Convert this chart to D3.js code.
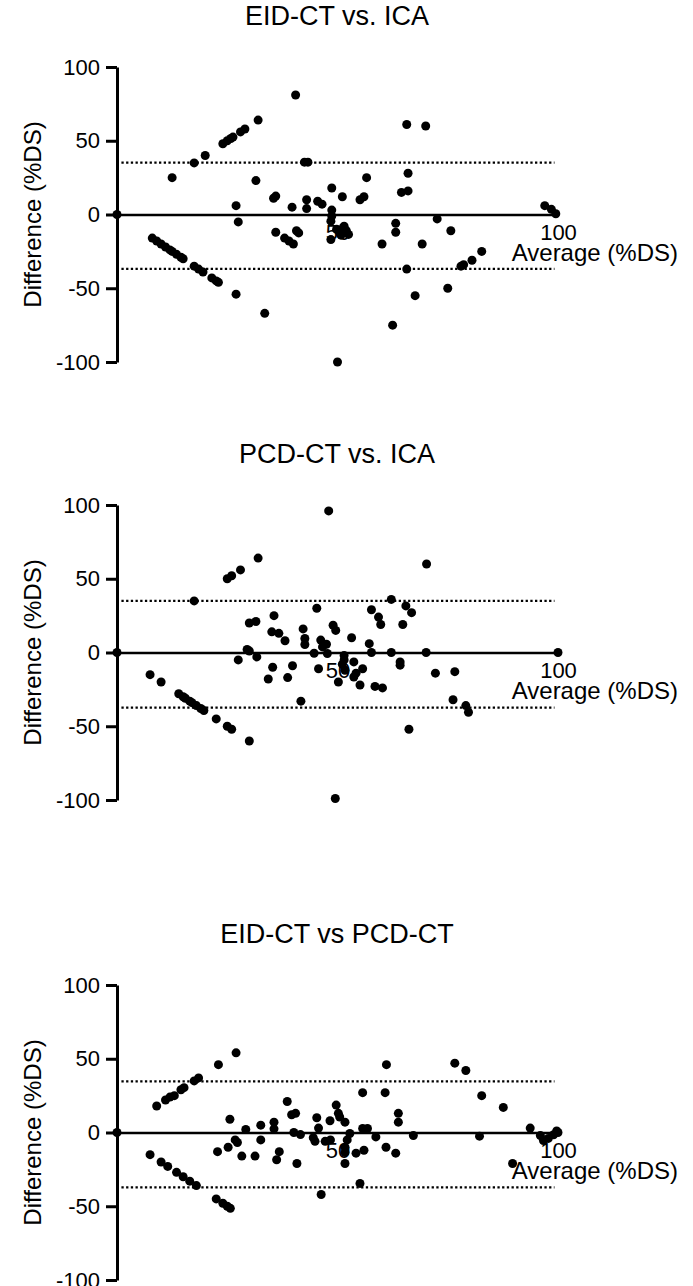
<!DOCTYPE html>
<html>
<head>
<meta charset="utf-8">
<script src="https://cdn.jsdelivr.net/npm/d3@7"></script>
<style>
  body { margin: 0; background: #fff; }
  text { font-family: "Liberation Sans", Arial, Helvetica, sans-serif; fill: #000; }
</style>
</head>
<body>
<div id="chart"></div>
<script>
// Panel titles and axis ticks
const titles = ["EID-CT vs. ICA", "PCD-CT vs. ICA", "EID-CT vs PCD-CT"];
const yTicks = [-100, -50, 0, 50, 100];
const xTicks = [50, 100];

// Limits of agreement (dotted lines) per panel
const loaUpper = [35.2, 35, 34.7];
const loaLower = [-36.9, -37.4, -37.2];

// EID-CT vs. ICA : average / difference
const eidIcaAvg = [0,
  8, 9, 10, 11, 12, 12.5, 13.5, 14.5, 15,
  17.5, 18.5, 19.5, 21.5, 22.5, 23, 27, 33.5, 50,
  12.5, 17.5, 20, 24, 25, 25.8, 26.3, 28, 29, 32, 40.5,
  27, 27.5, 31.5, 35.5, 36, 36, 38, 39, 40, 39.7, 40.7, 41.2,
  42.5, 43.3, 43, 43, 45.5, 46.5,
  48.7, 48.7, 48.7, 48.5, 48.5, 49.8, 50.5, 51.3, 52, 52.5, 50.8, 51.5,
  51.1, 55.1, 56, 56.6,
  60.1, 62.5, 63.2, 63.2, 64.5, 66, 66, 65.7, 70, 65.7, 67.6, 69.2, 72.6, 75.7, 75, 78, 78.6, 80.5, 82.7,
  97, 98.5, 99.5];
const eidIcaDiff = [0,
  -16, -18, -20, -22, -24, -25, -27, -29, -30,
  -35, -37, -39, -43, -45, -46, -54, -67, -100,
  25, 35, 40, 48, 50, 51.5, 52.5, 56, 58, 64, 81,
  6, -5, 23, 11, 12.5, -12, -16, -18, -20, 5, -11, -12.5,
  35.5, 35.5, 10, 4, 9, 7,
  18, 3, -1, -4.5, -17, -10, -12, -9, -11, -13.5, -14, -8,
  12, 10, 12, 25,
  -20, -75, -6, -12, 15, 16, 28, 61, 60, -37, -55, -20, -3, -11, -50, -35, -34, -31, -25,
  6, 3.5, 0.5];

// PCD-CT vs. ICA : average / difference
const pcdIcaAvg = [0,
  7.5, 10, 14, 15, 15.5, 16.5, 17, 18, 19, 19.7,
  22.5, 25, 26, 30, 49.5,
  17.5, 25, 26, 28, 32, 48,
  30, 31.5, 27.5, 29.5, 30, 31.7,
  35.6, 35.1, 36.7, 38.1, 35.3, 34.3, 38.7, 39.8, 41.7,
  45.3, 42.2, 42.6, 42.6, 44.7, 45.7, 46.2, 47.5, 46.6, 47.7,
  49, 49.6, 51.5, 51.5, 51.1, 51.7, 50.2, 53.2,
  53.7, 55.7, 54.2, 53.7, 55.1, 57.2, 57.7, 58.5, 60.2,
  62.2, 64.2, 64.2, 70.1, 57.7, 59.3, 59.8, 62.2, 65.5, 66.8, 64.8,
  70.2, 66.2, 72.2, 76.6, 76.2, 79.1, 79.7, 100];
const pcdIcaDiff = [0,
  -15, -20, -28, -30, -31, -33, -34, -36, -38, -39.4,
  -45, -50, -52, -60, -99,
  35, 50, 52, 56, 64, 96,
  20, 21, -5, 2, 1, -3,
  25, 14, 13, 8, -10, -18, -17, -9, -33,
  30, 16, 9.5, 5.4, -0.5, -11, 8.4, 5.6, 3.8, -0.7,
  18.5, 15, -2, -5, -8, -12, -20, 10,
  -6.4, -11, -14, -16.6, -22, 6, 0, -23, -24,
  0, -6.4, -8.6, 0, 29, 24, 19, 36, 31.6, 27, 19,
  60, -52, -14, -13, -32, -36, -40.5, 0];

// EID-CT vs PCD-CT : average / difference
const eidPcdAvg = [0,
  7.5, 10, 11.5, 13.5, 15, 16.5, 18,
  22.5, 24, 25, 25.7,
  9, 11, 12, 13, 14.5, 15.2, 17.5, 18.5, 23, 27,
  25.6, 22.8, 25.2, 26.8, 27.3, 28.3, 29.2, 31.3, 32.6, 32.6, 35.6, 35.6, 36.2, 36.8,
  38.6, 39.6, 40.5, 40.1, 41.6, 40.8,
  45.3, 45.7, 44.5, 44.9, 48.3, 47.2, 48.4, 46.3,
  49.7, 50.2, 50.5, 51.7, 52.8, 52.2, 51.7, 51.7, 51.7,
  55.1, 55.7, 60.8, 61.1, 55.7, 56.8, 58.7, 54.2, 56, 61, 63.2, 63.8, 63.8, 67.2,
  76.6, 79.1, 82.7, 87.6, 82.2, 89.7, 93.7, 96, 96.7, 97.8, 99, 99.7, 100];
const eidPcdDiff = [0,
  -15, -20, -23, -27, -30, -33, -36,
  -45, -48, -50, -51.4,
  18, 22, 24, 25, 29, 30.4, 35, 37, 46, 54,
  9, -13, -10, -5, -6.8, -16, 2, -16, 5, -5, 7, 2.5, -18.5, -13,
  21, 12, 13, 0, -1.4, -21,
  10, 3, -3.5, -6, 8, -6, -5, -42,
  18.6, 13, 10.5, 7, -0.7, -5, -10, -13.5, -21,
  -34.5, 27, 27, 46, 2.7, 2.7, -3, -14, -12, -10, -14, 13, 7, -2,
  47, 42, 25, 17, -2.5, -21, 3, -2, -5.5, -4, -1.5, 1, 0];

const svg = d3.select("#chart")
  .append("svg")
    .attr("width", 693)
    .attr("height", 1286);

const plotH = 295;
const panels = [
  { title: titles[0], avg: eidIcaAvg, diff: eidIcaDiff, top: 67, upper: loaUpper[0], lower: loaLower[0] },
  { title: titles[1], avg: pcdIcaAvg, diff: pcdIcaDiff, top: 505, upper: loaUpper[1], lower: loaLower[1] },
  { title: titles[2], avg: eidPcdAvg, diff: eidPcdDiff, top: 985, upper: loaUpper[2], lower: loaLower[2] }
];

const x = d3.scaleLinear().domain([0, 100]).range([117, 558]);
const fmt = d => String(d);  // plain hyphen minus, as in the original

panels.forEach(p => {
  const y = d3.scaleLinear().domain([-100, 100]).range([p.top + plotH, p.top]);
  const g = svg.append("g");

  // title
  g.append("text")
    .attr("x", 337)
    .attr("y", p.top - 51)
    .attr("text-anchor", "middle")
    .attr("dominant-baseline", "central")
    .style("font-size", "27px")
    .text(p.title);

  // limits of agreement
  g.selectAll("line.loa")
    .data([p.upper, p.lower])
    .join("line")
      .attr("class", "loa")
      .attr("x1", x(1))
      .attr("x2", x(99.2))
      .attr("y1", d => y(d))
      .attr("y2", d => y(d))
      .attr("stroke", "#000")
      .attr("stroke-width", 2.2)
      .attr("stroke-dasharray", "2.3,2.4");

  // x axis drawn along zero difference
  const xAxis = g.append("g")
    .attr("transform", `translate(0,${y(0)})`)
    .call(d3.axisBottom(x).tickValues(xTicks).tickFormat(fmt).tickSize(0).tickSizeOuter(0).tickPadding(10));
  xAxis.select(".domain").attr("stroke", "#000").attr("stroke-width", 2.6);
  xAxis.selectAll("text").style("font-size", "22px").attr("fill", "#000");

  g.append("text")
    .attr("x", 678)
    .attr("y", y(0) + 38)
    .attr("text-anchor", "end")
    .attr("dominant-baseline", "central")
    .style("font-size", "24px")
    .text("Average (%DS)");

  // points
  g.selectAll("circle")
    .data(p.avg.map((a, i) => ({ avg: a, diff: p.diff[i] })))
    .join("circle")
      .attr("cx", d => x(d.avg))
      .attr("cy", d => y(d.diff))
      .attr("r", 4.5)
      .attr("fill", "#000");

  // y axis
  const yAxis = g.append("g")
    .attr("transform", `translate(${x(0)},0)`)
    .call(d3.axisLeft(y).tickValues(yTicks).tickFormat(fmt).tickSize(11).tickSizeOuter(0).tickPadding(6));
  yAxis.select(".domain").attr("stroke", "#000").attr("stroke-width", 3);
  yAxis.selectAll(".tick line").attr("stroke", "#000").attr("stroke-width", 3);
  yAxis.selectAll("text").style("font-size", "22px").attr("fill", "#000");

  g.append("text")
    .attr("transform", `translate(32,${y(0)}) rotate(-90)`)
    .attr("text-anchor", "middle")
    .attr("dominant-baseline", "central")
    .style("font-size", "24px")
    .text("Difference (%DS)");
});
</script>
</body>
</html>
